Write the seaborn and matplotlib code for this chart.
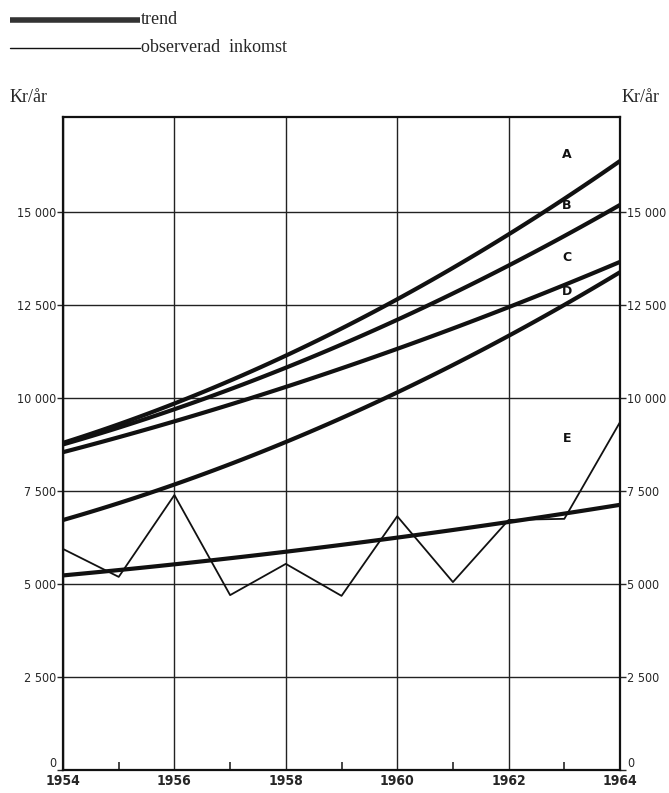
import numpy as np
import pandas as pd
import matplotlib
matplotlib.use("Agg")
import matplotlib.pyplot as plt
import seaborn as sns

# data (kr/år)
years = [1954, 1955, 1956, 1957, 1958, 1959, 1960, 1961, 1962, 1963, 1964]
trend_years = [1954, 1956, 1958, 1960, 1962, 1964]
trend_a = [8740, 9890, 11210, 12700, 14170, 16480]
trend_b = [8700, 9760, 10830, 12150, 13390, 15270]
trend_c = [8550, 9350, 10300, 11340, 12420, 13660]
trend_d = [6720, 7660, 8830, 10160, 11640, 13390]
trend_e = [5240, 5510, 5860, 6260, 6670, 7120]
observed_e = [5940, 5190, 7390, 4700, 5540, 4680, 6820, 5050, 6720, 6750, 9350]
curve_labels = ["A", "B", "C", "D", "E"]
label_y = [16530, 15160, 13760, 12850, 8900]
yticks = [0, 2500, 5000, 7500, 10000, 12500, 15000]
ytick_labels = ["0", "2 500", "5 000", "7 500", "10 000", "12 500", "15 000"]
xticks = [1954, 1956, 1958, 1960, 1962, 1964]

trend = pd.DataFrame({
    "år": trend_years * 5,
    "kr": trend_a + trend_b + trend_c + trend_d + trend_e,
    "kurva": [k for k in curve_labels for _ in trend_years],
})
obs = pd.DataFrame({"år": years, "kr": observed_e})

sns.set_style("white")
plt.rcParams["font.family"] = ["DejaVu Sans"]

fig = plt.figure(figsize=(6.69, 7.93), dpi=100)
ax = fig.add_axes([0.0942, 0.029, 0.8326, 0.8235])

# trend curves: smooth through read points
for k in curve_labels:
    d = trend[trend["kurva"] == k]
    xs = np.linspace(1954, 1964, 60)
    c = np.polyfit(d["år"], d["kr"], 2)
    smooth = pd.DataFrame({"år": xs, "kr": np.polyval(c, xs)})
    sns.lineplot(data=smooth, x="år", y="kr", ax=ax, color="#111111", lw=3.0,
                 solid_capstyle="butt")

sns.lineplot(data=obs, x="år", y="kr", ax=ax, color="#111111", lw=1.3)

ax.set_xlim(1954, 1964)
ax.set_ylim(0, 17550)
ax.set_xticks(xticks)
ax.set_xticklabels([str(x) for x in xticks], fontsize=10, fontweight="bold",
                   fontstretch="condensed")
ax.set_xticks(years[1::2], minor=True)
ax.tick_params(axis="x", which="minor", direction="in", length=6, width=1.2,
               bottom=True, top=False)
ax.tick_params(axis="x", which="major", length=0, pad=3)
ax.set_yticks(yticks)
ax.set_yticklabels(ytick_labels, fontsize=9, fontstretch="condensed")
ax.tick_params(axis="y", length=4, width=1, pad=1, left=True, right=True,
               labelright=True, direction="out")
ax.grid(True, which="major", color="#222222", lw=1.0)
ax.set_xlabel("")
ax.set_ylabel("")
for s in ax.spines.values():
    s.set_color("#111111")
    s.set_linewidth(1.6)

# lift the two "0" labels so they clear the year labels below
fig.canvas.draw()
for tk in ax.yaxis.get_major_ticks()[:1]:
    tk.label1.set_verticalalignment("bottom")
    tk.label2.set_verticalalignment("bottom")

for k, yl in zip(curve_labels, label_y):
    ax.text(1963.05, yl, k, fontsize=9, fontweight="bold", ha="center",
            va="center", color="#111111")

# legend drawn as in the original, above the plot
serif = ["Liberation Serif", "DejaVu Serif"]
fig.add_artist(plt.Line2D([10 / 669, 140 / 669], [1 - 20 / 793, 1 - 20 / 793],
                          color="#333333", lw=4, solid_capstyle="butt"))
fig.add_artist(plt.Line2D([10 / 669, 140 / 669], [1 - 48 / 793, 1 - 48 / 793],
                          color="#111111", lw=1.0))
fig.text(141 / 669, 1 - 20 / 793, "trend", fontsize=13, family=serif, va="center")
fig.text(141 / 669, 1 - 48 / 793, "observerad  inkomst", fontsize=13,
         family=serif, va="center")
fig.text(10 / 669, 1 - 97 / 793, "Kr/år", fontsize=13, family=serif, va="center")
fig.text(660 / 669, 1 - 97 / 793, "Kr/år", fontsize=13, family=serif,
         va="center", ha="right")

fig.savefig("out.png", dpi=100)
